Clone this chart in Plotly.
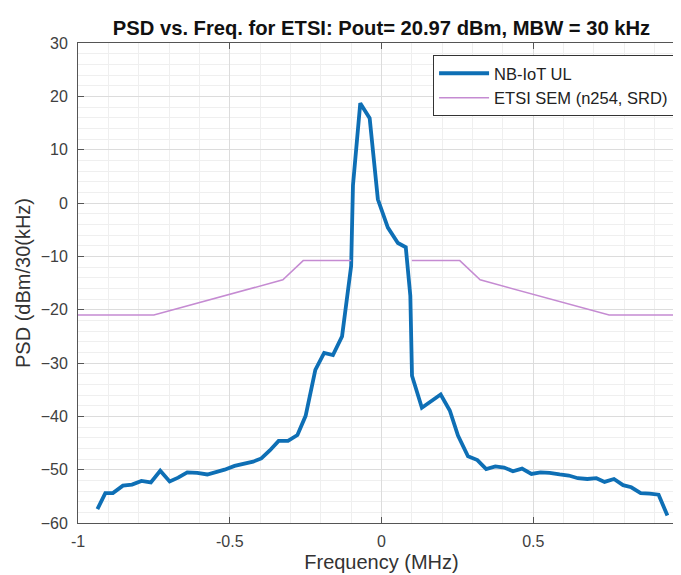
import plotly.graph_objects as go

# NB-IoT UL measured PSD (MHz, dBm/30kHz)
freq_mhz = [-0.936, -0.910, -0.885, -0.852, -0.822, -0.791, -0.760, -0.729, -0.698, -0.670,
            -0.640, -0.607, -0.574, -0.544, -0.517, -0.484, -0.456, -0.423, -0.396, -0.368,
            -0.339, -0.308, -0.277, -0.250, -0.218, -0.189, -0.160, -0.130, -0.100, -0.094,
            -0.070, -0.039, -0.012, 0.021, 0.054, 0.080, 0.095, 0.1005, 0.133, 0.195,
            0.225, 0.252, 0.285, 0.316, 0.345, 0.375, 0.404, 0.433, 0.463, 0.494,
            0.524, 0.554, 0.587, 0.617, 0.647, 0.678, 0.708, 0.735, 0.766, 0.796,
            0.823, 0.854, 0.884, 0.913, 0.942]
psd_dbm = [-57.4, -54.4, -54.4, -53.0, -52.8, -52.1, -52.4, -50.2, -52.2, -51.5,
           -50.5, -50.6, -50.9, -50.5, -50.0, -49.3, -48.9, -48.5, -47.9, -46.4,
           -44.6, -44.6, -43.5, -39.9, -31.3, -28.1, -28.5, -25.0, -11.8, 3.3,
           18.7, 15.9, 0.7, -4.6, -7.5, -8.3, -17.4, -32.4, -38.4, -35.9,
           -38.9, -43.6, -47.5, -48.2, -49.9, -49.4, -49.6, -50.3, -49.8, -50.8,
           -50.5, -50.6, -50.9, -51.1, -51.6, -51.75, -51.6, -52.3, -51.75, -52.9,
           -53.3, -54.4, -54.5, -54.7, -58.6]

# ETSI spectrum emission mask (n254, SRD)
mask_freq = [-1.0, -0.75, -0.325, -0.258, -0.100, None, 0.100, 0.258, 0.325, 0.75, 1.0]
mask_psd = [-21.0, -21.0, -14.4, -10.8, -10.8, None, -10.8, -10.8, -14.4, -21.0, -21.0]

x_ticks = [-1, -0.5, 0, 0.5, 1]
y_ticks = [-60, -50, -40, -30, -20, -10, 0, 10, 20, 30]

FONT = "Liberation Sans, Arial, Helvetica, sans-serif"

fig = go.Figure()
fig.add_trace(go.Scatter(x=freq_mhz, y=psd_dbm, mode="lines", name="NB-IoT UL",
                         line=dict(color="#0E6FB5", width=3.8)))
fig.add_trace(go.Scatter(x=mask_freq, y=mask_psd, mode="lines", name="ETSI SEM (n254, SRD)",
                         line=dict(color="#C58BD2", width=1.5), connectgaps=False))

axis_common = dict(showline=True, linecolor="#555555", linewidth=1, mirror="ticks",
                   ticks="inside", ticklen=6, tickcolor="#555555",
                   showgrid=True, gridcolor="#dcdcdc", gridwidth=1, zeroline=False,
                   automargin=False,
                   tickfont=dict(family=FONT, size=16, color="#404040"))

fig.update_xaxes(range=[-1, 1], tickvals=x_ticks, ticktext=[str(v) for v in x_ticks],
                 minor=dict(dtick=0.1, showgrid=True, gridcolor="#efefef", ticks=""),
                 ticklabelstandoff=4,
                 title=dict(text="Frequency (MHz)", font=dict(family=FONT, size=20, color="#333333"), standoff=5),
                 **axis_common)
fig.update_yaxes(range=[-60, 30], tickvals=y_ticks,
                 minor=dict(dtick=2, showgrid=True, gridcolor="#efefef", ticks=""),
                 ticklabelstandoff=6,
                 title=dict(text="PSD (dBm/30(kHz)", font=dict(family=FONT, size=20, color="#333333"), standoff=4),
                 **axis_common)

fig.update_layout(
    width=681, height=575,
    margin=dict(l=70, r=4, t=35, b=60),
    paper_bgcolor="white", plot_bgcolor="white",
    title=dict(text="<b>PSD vs. Freq. for ETSI: Pout= 20.97 dBm, MBW = 30 kHz</b>",
               x=0.5, xref="paper", xanchor="center", y=0.965, yanchor="middle",
               font=dict(family=FONT, size=20.2, color="#111111")),
    legend=dict(x=0.982, y=0.975, xanchor="right", yanchor="top",
                bgcolor="white", bordercolor="#333333", borderwidth=1,
                font=dict(family=FONT, size=16.5, color="#222222"),
                itemwidth=50, tracegroupgap=0),
    showlegend=True,
)

fig.write_html("out.html")
